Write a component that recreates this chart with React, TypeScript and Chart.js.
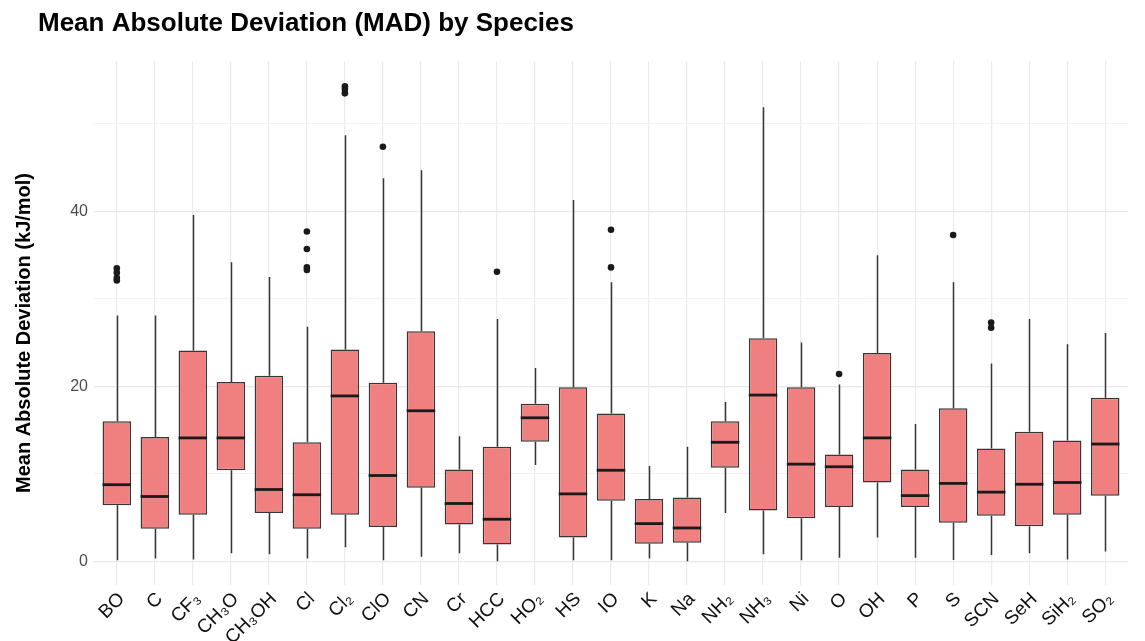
import React, { useEffect, useRef } from "react";
import { Chart, registerables } from "chart.js";

Chart.register(...registerables);

const species = ["BO", "C", "CF₃", "CH₃O", "CH₃OH", "Cl", "Cl₂", "ClO", "CN", "Cr", "HCC", "HO₂", "HS", "IO", "K", "Na", "NH₂", "NH₃", "Ni", "O", "OH", "P", "S", "SCN", "SeH", "SiH₂", "SO₂"];
const whiskerLow = [0.1, 0.3, 0.2, 0.9, 0.8, 0.3, 1.6, 0.1, 0.5, 0.9, 0.0, 11.0, 0.1, 0.1, 0.3, 0.0, 5.5, 0.8, 0.1, 0.4, 2.7, 0.4, 0.15, 0.7, 0.9, 0.2, 1.1];
const q1 = [6.4, 3.7, 5.3, 10.4, 5.5, 3.7, 5.3, 3.9, 8.4, 4.2, 1.9, 13.65, 2.7, 6.9, 2.0, 2.1, 10.7, 5.8, 4.9, 6.2, 9.0, 6.2, 4.4, 5.2, 4.0, 5.3, 7.5];
const median = [8.75, 7.4, 14.1, 14.1, 8.2, 7.6, 18.9, 9.8, 17.2, 6.6, 4.8, 16.4, 7.7, 10.4, 4.3, 3.8, 13.6, 19.0, 11.1, 10.8, 14.1, 7.5, 8.9, 7.9, 8.8, 9.0, 13.4];
const q3 = [16.0, 14.2, 24.1, 20.5, 21.2, 13.6, 24.2, 20.4, 26.3, 10.5, 13.1, 18.0, 19.9, 16.9, 7.1, 7.3, 16.0, 25.5, 19.9, 12.2, 23.8, 10.5, 17.5, 12.9, 14.8, 13.8, 18.7];
const whiskerHigh = [28.1, 28.1, 39.6, 34.2, 32.5, 26.8, 48.7, 43.8, 44.7, 14.3, 27.7, 22.1, 41.3, 31.9, 10.9, 13.1, 18.2, 51.9, 25.0, 20.2, 35.0, 15.7, 31.9, 22.6, 27.7, 24.8, 26.1];
const outlierSpecies = ["BO", "BO", "BO", "BO", "Cl", "Cl", "Cl", "Cl", "Cl₂", "Cl₂", "Cl₂", "ClO", "HCC", "IO", "IO", "O", "S", "SCN", "SCN"];
const outlierValues = [32.1, 32.4, 33.0, 33.5, 33.3, 33.6, 35.7, 37.7, 53.5, 54.0, 54.3, 47.4, 33.1, 33.6, 37.9, 21.4, 37.3, 26.7, 27.3];
const yGridValues = [0, 10, 20, 30, 40, 50];
const yLabelValues = [0, 20, 40];

const FONT = "'Liberation Sans', Arial, Helvetica, sans-serif";
const TITLE = "Mean Absolute Deviation (MAD) by Species";
const Y_TITLE = "Mean Absolute Deviation (kJ/mol)";

const boxPlugin = {
  id: "boxParts",
  beforeDatasetsDraw(chart: any) {
    const { ctx, scales } = chart;
    const x = scales.x, y = scales.y;
    ctx.save();
    ctx.strokeStyle = "#363636";
    ctx.lineWidth = 1.5;
    species.forEach((_s, i) => {
      const px = Math.round(x.getPixelForValue(i)) + 0.5;
      ctx.beginPath();
      ctx.moveTo(px, y.getPixelForValue(whiskerLow[i]));
      ctx.lineTo(px, y.getPixelForValue(q1[i]));
      ctx.moveTo(px, y.getPixelForValue(q3[i]));
      ctx.lineTo(px, y.getPixelForValue(whiskerHigh[i]));
      ctx.stroke();
    });
    ctx.restore();
  },
  afterDatasetDraw(chart: any, args: any) {
    if (args.index !== 0) return;
    const { ctx, scales } = chart;
    const y = scales.y;
    const meta = chart.getDatasetMeta(0);
    ctx.save();
    ctx.strokeStyle = "#1a1a1a";
    ctx.lineWidth = 2.8;
    meta.data.forEach((bar: any, i: number) => {
      const py = y.getPixelForValue(median[i]);
      ctx.beginPath();
      ctx.moveTo(bar.x - bar.width / 2, py);
      ctx.lineTo(bar.x + bar.width / 2, py);
      ctx.stroke();
    });
    ctx.restore();
  },
  afterDraw(chart: any) {
    const { ctx } = chart;
    ctx.save();
    ctx.fillStyle = "#000000";
    ctx.font = `bold 26px ${FONT}`;
    ctx.textBaseline = "middle";
    ctx.textAlign = "left";
    ctx.fillText(TITLE, 38, 24);
    ctx.translate(24, 333);
    ctx.rotate(-Math.PI / 2);
    ctx.textAlign = "center";
    ctx.font = `bold 20px ${FONT}`;
    ctx.fillText(Y_TITLE, 0, 0);
    ctx.restore();
  },
};

export default function App() {
  const ref = useRef<HTMLCanvasElement | null>(null);
  useEffect(() => {
    if (!ref.current) return;
    Chart.defaults.font.family = FONT;
    const chart = new Chart(ref.current, {
      type: "bar",
      data: {
        labels: species,
        datasets: [
          {
            type: "bar",
            data: species.map((_s, i) => [q1[i], q3[i]]) as any,
            backgroundColor: "#F08080",
            borderColor: "#363636",
            borderWidth: 1.5,
            borderSkipped: false,
            categoryPercentage: 1,
            barPercentage: 0.75,
          },
          {
            type: "scatter",
            data: outlierSpecies.map((s, k) => ({ x: s, y: outlierValues[k] })) as any,
            backgroundColor: "#1a1a1a",
            borderWidth: 0,
            pointRadius: 3.3,
          } as any,
        ],
      },
      options: {
        responsive: false,
        animation: false,
        layout: { padding: { top: 61, right: 17, bottom: 0, left: 0 } },
        plugins: { legend: { display: false }, tooltip: { enabled: false }, title: { display: false } },
        scales: {
          x: {
            type: "category",
            offset: true,
            border: { display: false },
            grid: { offset: false, color: "#EBEBEB", lineWidth: 1.2, drawTicks: false },
            ticks: { color: "#111111", font: { size: 19 }, minRotation: 45, maxRotation: 45, autoSkip: false, padding: 3, labelOffset: 5 },
            afterBuildTicks: (s: any) => {
              s._startValue = -0.6;
              s._valueRange = species.length - 1 + 1.2;
            },
            afterFit: (s: any) => {
              s.height = 56;
            },
          },
          y: {
            min: -2.72,
            max: 57.2,
            border: { display: false },
            grid: {
              drawTicks: false,
              color: (c: any) => (yLabelValues.includes(c.tick?.value) ? "#E8E8E8" : "#F2F2F2"),
              lineWidth: (c: any) => (yLabelValues.includes(c.tick?.value) ? 1.3 : 1),
            },
            ticks: {
              color: "#4D4D4D",
              font: { size: 16 },
              padding: 6,
              callback: (v: any) => (yLabelValues.includes(Number(v)) ? String(v) : ""),
            },
            afterBuildTicks: (s: any) => {
              s.ticks = yGridValues.map((v) => ({ value: v }));
            },
            afterFit: (s: any) => {
              s.width = 94;
            },
          },
        },
      },
      plugins: [boxPlugin],
    });
    return () => chart.destroy();
  }, []);
  return (
    <div style={{ position: "absolute", left: 0, top: 0, width: 1145, height: 641, background: "#ffffff" }}>
      <canvas ref={ref} width={1145} height={641} style={{ width: 1145, height: 641, display: "block" }} />
    </div>
  );
}
